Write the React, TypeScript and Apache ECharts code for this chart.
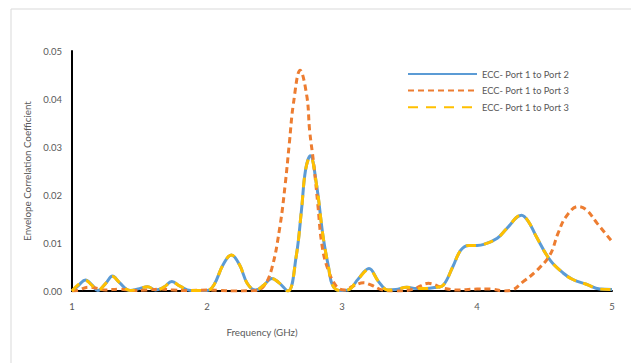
import React, { useEffect, useRef } from "react";
import * as echarts from "echarts";

// Frequency (GHz) and ECC values
const freq12 = [1.0, 1.05, 1.1, 1.15, 1.19, 1.25, 1.3, 1.35, 1.43, 1.5, 1.56, 1.62, 1.68, 1.74, 1.8, 1.88, 2.0, 2.05, 2.12, 2.18, 2.24, 2.3, 2.36, 2.42, 2.48, 2.53, 2.6, 2.66, 2.7, 2.73, 2.765, 2.81, 2.86, 2.9, 2.93, 2.98, 3.05, 3.12, 3.2, 3.27, 3.34, 3.4, 3.48, 3.55, 3.62, 3.7, 3.75, 3.82, 3.88, 3.94, 4.0, 4.05, 4.15, 4.22, 4.33, 4.38, 4.44, 4.54, 4.64, 4.71, 4.81, 4.91, 5.0];
const ecc12 = [0.0, 0.0012, 0.0023, 0.0012, 0.0001, 0.0016, 0.0031, 0.0018, 0.0001, 0.0005, 0.0009, 0.0002, 0.0008, 0.002, 0.001, 0.0001, 0.0001, 0.0012, 0.0055, 0.0075, 0.0055, 0.0015, 0.0002, 0.0012, 0.0026, 0.0018, 0.0, 0.0071, 0.0169, 0.0252, 0.0282, 0.0224, 0.0113, 0.005, 0.0012, 0.0001, 0.0003, 0.0025, 0.0047, 0.002, 0.0002, 0.0003, 0.0008, 0.0005, 0.0005, 0.0008, 0.0012, 0.005, 0.0085, 0.0095, 0.0095, 0.0097, 0.011, 0.013, 0.0158, 0.0145, 0.0113, 0.0065, 0.0037, 0.0024, 0.0014, 0.0004, 0.0003];

const freq13a = [1.0, 1.05, 1.12, 1.18, 1.25, 1.35, 1.45, 1.55, 1.65, 1.75, 1.85, 2.0, 2.1, 2.2, 2.35, 2.42, 2.48, 2.54, 2.58, 2.61, 2.64, 2.69, 2.74, 2.76, 2.79, 2.82, 2.85, 2.89, 2.96, 3.02, 3.08, 3.16, 3.22, 3.3, 3.4, 3.53, 3.64, 3.75, 3.87, 4.0, 4.1, 4.2, 4.26, 4.34, 4.44, 4.54, 4.6, 4.66, 4.75, 4.81, 4.89, 5.0];
const ecc13a = [0.0, 0.0002, 0.0008, 0.0006, 0.0002, 0.0004, 0.0001, 0.0002, 0.0004, 0.0002, 0.0001, 0.0002, 0.0001, 0.0, 0.0001, 0.001, 0.0047, 0.0134, 0.0224, 0.0308, 0.039, 0.046, 0.0405, 0.0335, 0.0266, 0.0183, 0.0099, 0.005, 0.0009, 0.0002, 0.001, 0.0017, 0.0012, 0.0002, 0.0, 0.0004, 0.0016, 0.0006, 0.0002, 0.0004, 0.0004, 0.0, 0.0002, 0.0019, 0.0042, 0.0075, 0.012, 0.0155, 0.0176, 0.0169, 0.0141, 0.0103];

const freq13b = [1.0, 1.05, 1.1, 1.15, 1.19, 1.25, 1.3, 1.35, 1.43, 1.5, 1.56, 1.62, 1.68, 1.74, 1.8, 1.88, 2.0, 2.05, 2.12, 2.18, 2.24, 2.3, 2.36, 2.42, 2.48, 2.53, 2.6, 2.66, 2.7, 2.73, 2.765, 2.81, 2.86, 2.9, 2.93, 2.98, 3.05, 3.12, 3.2, 3.27, 3.34, 3.4, 3.48, 3.55, 3.62, 3.7, 3.75, 3.82, 3.88, 3.94, 4.0, 4.05, 4.15, 4.22, 4.33, 4.38, 4.44, 4.54, 4.64, 4.71, 4.81, 4.91, 5.0];
const ecc13b = [0.0, 0.0014, 0.0022, 0.0011, 0.0001, 0.0016, 0.003, 0.0018, 0.0001, 0.0005, 0.0009, 0.0002, 0.0008, 0.0019, 0.001, 0.0001, 0.0001, 0.0012, 0.0055, 0.0075, 0.0055, 0.0015, 0.0002, 0.0012, 0.0026, 0.0018, 0.0, 0.0071, 0.0169, 0.0252, 0.028, 0.0224, 0.0113, 0.005, 0.0012, 0.0001, 0.0003, 0.0025, 0.0045, 0.002, 0.0002, 0.0003, 0.0008, 0.0005, 0.0005, 0.0008, 0.0012, 0.005, 0.0085, 0.0095, 0.0095, 0.0097, 0.011, 0.013, 0.0158, 0.0145, 0.0113, 0.0065, 0.0037, 0.0024, 0.0014, 0.0004, 0.0003];

const seriesNames = ["ECC- Port 1 to Port 2", "ECC- Port 1 to Port 3", "ECC- Port 1 to Port 3 "];
const yTicks = [0, 0.01, 0.02, 0.03, 0.04, 0.05];
const xTicks = [1, 2, 3, 4, 5];
const xTitle = "Frequency (GHz)";
const yTitle = "Envelope Correlation Coefficient";

const pair = (xs: number[], ys: number[]) => xs.map((x, i) => [x, ys[i]]);

export default function App() {
  const ref = useRef<HTMLDivElement>(null);
  useEffect(() => {
    if (!ref.current) return;
    const chart = echarts.init(ref.current, null, { renderer: "svg" });
    const font = "Lato, 'Open Sans', sans-serif";
    chart.setOption({
      animation: false,
      backgroundColor: "#ffffff",
      grid: { left: 72, right: 19, top: 51, bottom: 72 },
      xAxis: {
        type: "value",
        min: xTicks[0],
        max: xTicks[xTicks.length - 1],
        interval: 1,
        axisLine: { show: true, onZero: false, lineStyle: { color: "#000", width: 2 } },
        axisTick: { show: false },
        splitLine: { show: false },
        axisLabel: { color: "#595959", fontSize: 9.5, fontFamily: font, margin: 10 },
      },
      yAxis: {
        type: "value",
        min: yTicks[0],
        max: yTicks[yTicks.length - 1],
        interval: 0.01,
        name: yTitle,
        nameLocation: "middle",
        nameGap: 38,
        nameTextStyle: { color: "#595959", fontSize: 9.8, fontFamily: font },
        axisLine: { show: true, lineStyle: { color: "#000", width: 2 } },
        axisTick: { show: false },
        splitLine: { show: false },
        axisLabel: {
          color: "#595959",
          fontSize: 9.5,
          fontFamily: font,
          margin: 10,
          formatter: (v: number) => v.toFixed(2),
        },
      },
      legend: {
        orient: "vertical",
        left: 407,
        top: 69.5,
        padding: 0,
        itemWidth: 69,
        itemHeight: 11,
        itemGap: 7.6,
        data: seriesNames,
        formatter: (n: string) => n.trim(),
        itemStyle: { opacity: 0 },
        textStyle: { color: "#595959", fontSize: 9.3, fontFamily: font },
      },
      graphic: [
        {
          type: "rect",
          shape: { x: 11, y: 9, width: 640, height: 380 },
          style: { fill: "none", stroke: "#d9d9d9", lineWidth: 1 },
          silent: true,
          z: -10,
        },
        {
          type: "text",
          x: 262,
          y: 332,
          style: {
            text: xTitle,
            fill: "#595959",
            fontSize: 9.8,
            fontFamily: font,
            textAlign: "center",
            textVerticalAlign: "middle",
          },
        },
      ],
      series: [
        {
          name: seriesNames[0],
          type: "line",
          smooth: 0.4,
          symbol: "none",
          data: pair(freq12, ecc12),
          lineStyle: { color: "#5B9BD5", width: 3 },
          itemStyle: { color: "#5B9BD5" },
          z: 2,
        },
        {
          name: seriesNames[1],
          type: "line",
          smooth: 0.4,
          symbol: "none",
          data: pair(freq13a, ecc13a),
          lineStyle: { color: "#ED7D31", width: 3, type: [6, 4] },
          itemStyle: { color: "#ED7D31" },
          z: 3,
        },
        {
          name: seriesNames[2],
          type: "line",
          smooth: 0.4,
          symbol: "none",
          data: pair(freq13b, ecc13b),
          lineStyle: { color: "#FFC000", width: 3, type: [10, 8] },
          itemStyle: { color: "#FFC000" },
          z: 4,
        },
      ],
    });
    return () => chart.dispose();
  }, []);
  return (
    <div
      ref={ref}
      style={{ position: "fixed", left: 0, top: 0, width: 631, height: 363 }}
    />
  );
}
